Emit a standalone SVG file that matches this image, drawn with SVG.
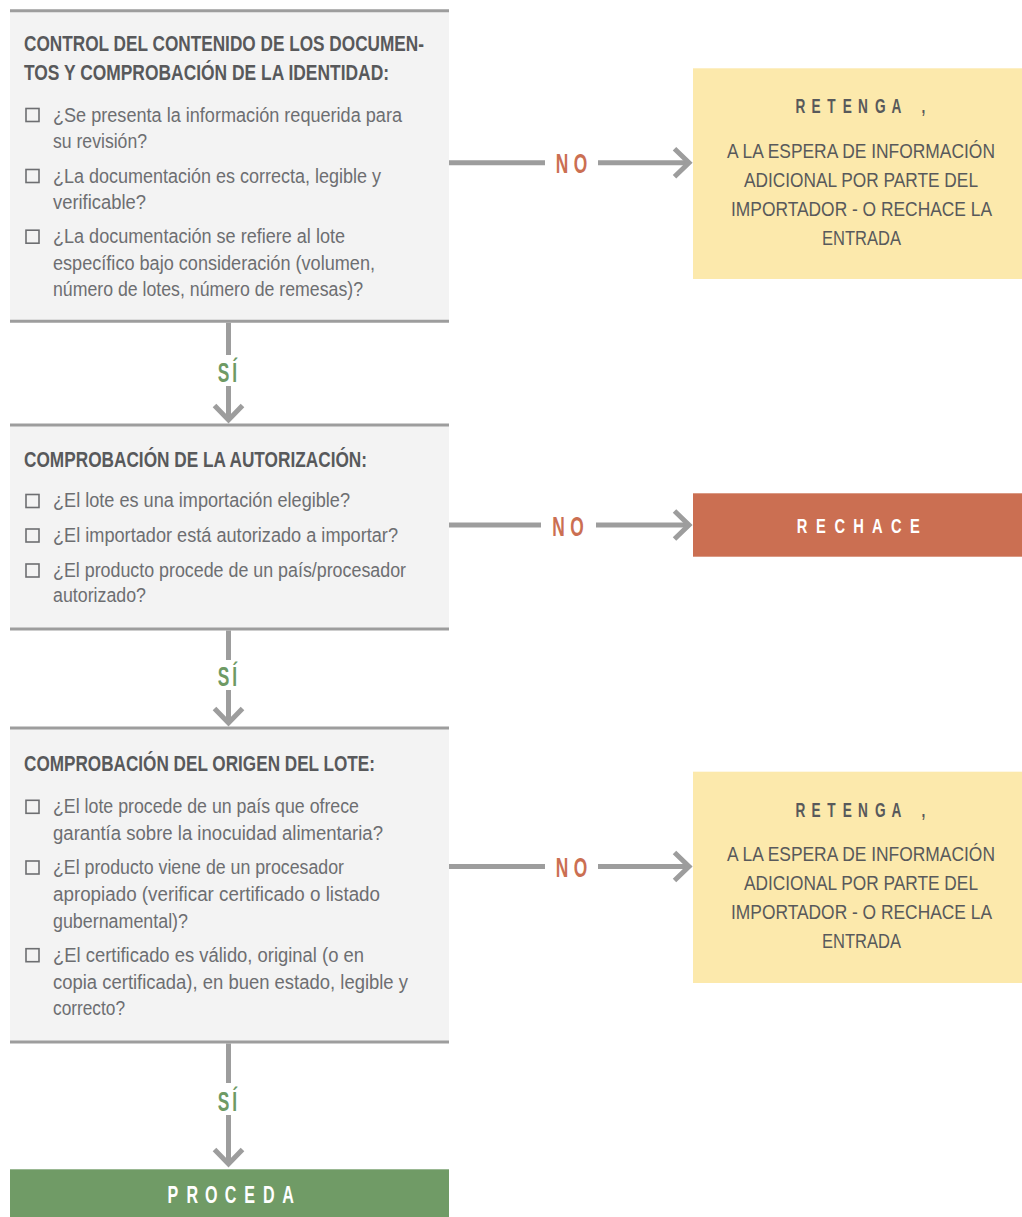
<svg xmlns="http://www.w3.org/2000/svg" width="1022" height="1217" viewBox="0 0 1022 1217">
<style>
  text { font-family: "Liberation Sans", Arial, sans-serif; }
  .panel { fill: #f3f3f3; }
  .rule { stroke: #9d9d9d; stroke-width: 3; fill: none; }
  .title { font-weight: bold; font-size: 22px; fill: #58595b; }
  .item { font-size: 19.5px; fill: #6d6e71; }
  .cb { fill: none; stroke: #6d6e71; stroke-width: 1.6; }
  .hold { fill: #fce9ac; }
  .holdhead { font-weight: bold; font-size: 19.5px; fill: #58595b; text-anchor: middle; }
  .holdtxt { font-size: 20px; fill: #58595b; }
  .white { font-weight: bold; fill: #ffffff; text-anchor: middle; }
  .conn { stroke: #9d9d9d; stroke-width: 5; fill: none; }
  .no { font-weight: bold; font-size: 28px; fill: #cb6f52; text-anchor: middle; }
  .si { font-weight: bold; font-size: 28px; fill: #6e9a64; text-anchor: middle; }
</style>
<defs>
  <marker id="chev" markerUnits="userSpaceOnUse" markerWidth="40" markerHeight="40" viewBox="-20 -20 40 40" refX="0" refY="0" orient="auto" overflow="visible">
    <path d="M-14.5,-14 L0,0 L-14.5,14" fill="none" stroke="#9d9d9d" stroke-width="5" stroke-linejoin="miter"/>
  </marker>
</defs>

<g id="node-control">
  <rect class="panel" x="10" y="10.7" width="439" height="310.6"/>
  <line class="rule" x1="10" y1="10.7" x2="449" y2="10.7"/>
  <line class="rule" x1="10" y1="321.3" x2="449" y2="321.3"/>
  <text class="title" x="24" y="50.7" textLength="400" lengthAdjust="spacingAndGlyphs">CONTROL DEL CONTENIDO DE LOS DOCUMEN-</text>
  <text class="title" x="24" y="80" textLength="365" lengthAdjust="spacingAndGlyphs">TOS Y COMPROBACIÓN DE LA IDENTIDAD:</text>
  <rect class="cb" x="26" y="108.5" width="13" height="13"/>
  <text class="item" x="53" y="121.7" textLength="349" lengthAdjust="spacingAndGlyphs">¿Se presenta la información requerida para</text>
  <text class="item" x="53" y="147.7" textLength="94" lengthAdjust="spacingAndGlyphs">su revisión?</text>
  <rect class="cb" x="26" y="169.5" width="13" height="13"/>
  <text class="item" x="53" y="182.7" textLength="328" lengthAdjust="spacingAndGlyphs">¿La documentación es correcta, legible y</text>
  <text class="item" x="53" y="208.7" textLength="93" lengthAdjust="spacingAndGlyphs">verificable?</text>
  <rect class="cb" x="26" y="230.2" width="13" height="13"/>
  <text class="item" x="53" y="243.3" textLength="292" lengthAdjust="spacingAndGlyphs">¿La documentación se refiere al lote</text>
  <text class="item" x="53" y="269.5" textLength="322" lengthAdjust="spacingAndGlyphs">específico bajo consideración (volumen,</text>
  <text class="item" x="53" y="296" textLength="310" lengthAdjust="spacingAndGlyphs">número de lotes, número de remesas)?</text>
</g>

<g id="node-autorizacion">
  <rect class="panel" x="10" y="425" width="439" height="204"/>
  <line class="rule" x1="10" y1="425" x2="449" y2="425"/>
  <line class="rule" x1="10" y1="629" x2="449" y2="629"/>
  <text class="title" x="24" y="466.7" textLength="343" lengthAdjust="spacingAndGlyphs">COMPROBACIÓN DE LA AUTORIZACIÓN:</text>
  <rect class="cb" x="26" y="494.5" width="13" height="13"/>
  <text class="item" x="53" y="507.3" textLength="297" lengthAdjust="spacingAndGlyphs">¿El lote es una importación elegible?</text>
  <rect class="cb" x="26" y="529" width="13" height="13"/>
  <text class="item" x="53" y="541.7" textLength="345" lengthAdjust="spacingAndGlyphs">¿El importador está autorizado a importar?</text>
  <rect class="cb" x="26" y="564" width="13" height="13"/>
  <text class="item" x="53" y="576.7" textLength="353" lengthAdjust="spacingAndGlyphs">¿El producto procede de un país/procesador</text>
  <text class="item" x="53" y="602.3" textLength="93" lengthAdjust="spacingAndGlyphs">autorizado?</text>
</g>

<g id="node-origen">
  <rect class="panel" x="10" y="728" width="439" height="314"/>
  <line class="rule" x1="10" y1="728" x2="449" y2="728"/>
  <line class="rule" x1="10" y1="1042" x2="449" y2="1042"/>
  <text class="title" x="24" y="771" textLength="351" lengthAdjust="spacingAndGlyphs">COMPROBACIÓN DEL ORIGEN DEL LOTE:</text>
  <rect class="cb" x="26" y="800.3" width="13" height="13"/>
  <text class="item" x="53" y="813.3" textLength="306" lengthAdjust="spacingAndGlyphs">¿El lote procede de un país que ofrece</text>
  <text class="item" x="53" y="839.5" textLength="330" lengthAdjust="spacingAndGlyphs">garantía sobre la inocuidad alimentaria?</text>
  <rect class="cb" x="26" y="861" width="13" height="13"/>
  <text class="item" x="53" y="874" textLength="291" lengthAdjust="spacingAndGlyphs">¿El producto viene de un procesador</text>
  <text class="item" x="53" y="901" textLength="327" lengthAdjust="spacingAndGlyphs">apropiado (verificar certificado o listado</text>
  <text class="item" x="53" y="927.7" textLength="135" lengthAdjust="spacingAndGlyphs">gubernamental)?</text>
  <rect class="cb" x="26" y="948.7" width="13" height="13"/>
  <text class="item" x="53" y="961.7" textLength="311" lengthAdjust="spacingAndGlyphs">¿El certificado es válido, original (o en</text>
  <text class="item" x="53" y="988.5" textLength="355" lengthAdjust="spacingAndGlyphs">copia certificada), en buen estado, legible y</text>
  <text class="item" x="53" y="1015.3" textLength="72" lengthAdjust="spacingAndGlyphs">correcto?</text>
</g>

<g id="node-retenga-1">
  <rect class="hold" x="693" y="68.3" width="329" height="210.7"/>
  <text class="holdhead" transform="scale(0.7,1)" x="1143.6 1165.7 1187.6 1210.4 1232.9 1257.6 1280.7 1319" y="113.3">RETENGA,</text>
  <text class="holdtxt" transform="scale(0.85,1)" x="855.3" y="157.7" textLength="315.3" lengthAdjust="spacingAndGlyphs">A LA ESPERA DE INFORMACIÓN</text>
  <text class="holdtxt" transform="scale(0.85,1)" x="875.3" y="187.1" textLength="275.3" lengthAdjust="spacingAndGlyphs">ADICIONAL POR PARTE DEL</text>
  <text class="holdtxt" transform="scale(0.85,1)" x="860" y="216.5" textLength="307.1" lengthAdjust="spacingAndGlyphs">IMPORTADOR - O RECHACE LA</text>
  <text class="holdtxt" transform="scale(0.85,1)" x="967.1" y="245.5" textLength="92.9" lengthAdjust="spacingAndGlyphs">ENTRADA</text>
</g>

<g id="node-rechace">
  <rect x="693" y="493.3" width="329" height="63.4" fill="#cb6f52"/>
  <text class="white" font-size="21" transform="scale(0.7,1)" x="1145.7 1172.6 1199.6 1226.4 1253.3 1280.3 1307.1" y="533">RECHACE</text>
</g>

<g id="node-retenga-2">
  <rect class="hold" x="693" y="771.7" width="329" height="211.3"/>
  <text class="holdhead" transform="scale(0.7,1)" x="1143.6 1165.7 1187.6 1210.4 1232.9 1257.6 1280.7 1319" y="816.7">RETENGA,</text>
  <text class="holdtxt" transform="scale(0.85,1)" x="855.3" y="860.7" textLength="315.3" lengthAdjust="spacingAndGlyphs">A LA ESPERA DE INFORMACIÓN</text>
  <text class="holdtxt" transform="scale(0.85,1)" x="875.3" y="890" textLength="275.3" lengthAdjust="spacingAndGlyphs">ADICIONAL POR PARTE DEL</text>
  <text class="holdtxt" transform="scale(0.85,1)" x="860" y="919.3" textLength="307.1" lengthAdjust="spacingAndGlyphs">IMPORTADOR - O RECHACE LA</text>
  <text class="holdtxt" transform="scale(0.85,1)" x="967.1" y="948.4" textLength="92.9" lengthAdjust="spacingAndGlyphs">ENTRADA</text>
</g>

<g id="node-proceda">
  <rect x="10" y="1169.3" width="439" height="47.7" fill="#709b66"/>
  <text class="white" font-size="23" transform="scale(0.7,1)" x="247.1 274.6 301.9 329.3 356.7 384 411.4" y="1203.3">PROCEDA</text>
</g>

<g id="connectors">
  <line class="conn" x1="449" y1="162.7" x2="545" y2="162.7"/>
  <line class="conn" x1="598" y1="162.7" x2="689" y2="162.7" marker-end="url(#chev)"/>
  <text class="no" transform="scale(0.62,1)" x="906.5 936.3" y="173.3">NO</text>
  <line class="conn" x1="449" y1="525" x2="541" y2="525"/>
  <line class="conn" x1="596" y1="525" x2="689" y2="525" marker-end="url(#chev)"/>
  <text class="no" transform="scale(0.62,1)" x="900.8 930.6" y="535.6">NO</text>
  <line class="conn" x1="449" y1="866.5" x2="545" y2="866.5"/>
  <line class="conn" x1="598" y1="866.5" x2="689" y2="866.5" marker-end="url(#chev)"/>
  <text class="no" transform="scale(0.62,1)" x="906.5 936.3" y="877.1">NO</text>
  <line class="conn" x1="228.5" y1="322.8" x2="228.5" y2="355"/>
  <line class="conn" x1="228.5" y1="386" x2="228.5" y2="420" marker-end="url(#chev)"/>
  <text class="si" transform="scale(0.62,1)" x="360.5 378.5" y="381.7">SÍ</text>
  <line class="conn" x1="228.5" y1="630.5" x2="228.5" y2="660"/>
  <line class="conn" x1="228.5" y1="690" x2="228.5" y2="723" marker-end="url(#chev)"/>
  <text class="si" transform="scale(0.62,1)" x="360.5 378.5" y="686">SÍ</text>
  <line class="conn" x1="228.5" y1="1043.5" x2="228.5" y2="1083"/>
  <line class="conn" x1="228.5" y1="1115" x2="228.5" y2="1164" marker-end="url(#chev)"/>
  <text class="si" transform="scale(0.62,1)" x="360.5 378.5" y="1110.7">SÍ</text>
</g>
</svg>
